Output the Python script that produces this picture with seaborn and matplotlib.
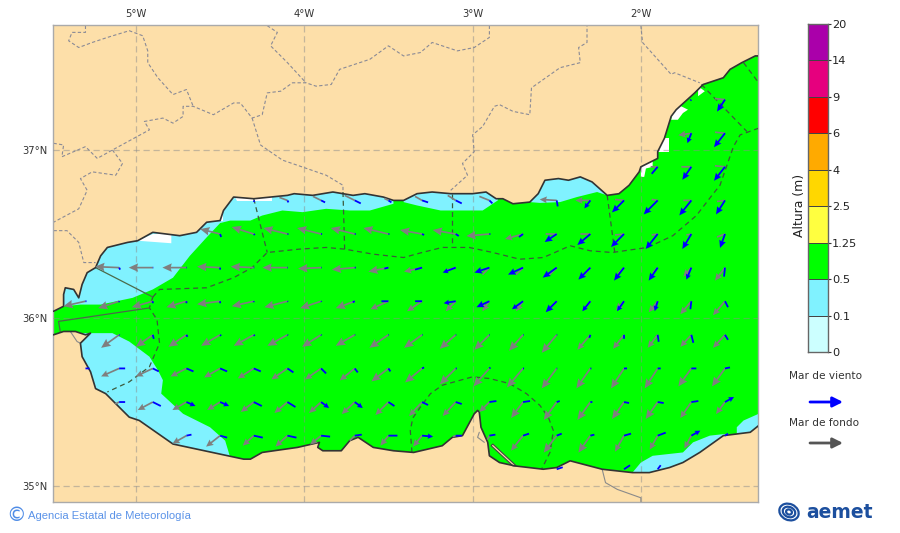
# Oleaje en el mar de Alboran - altura, mar de viento y mar de fondo
import numpy as np
import matplotlib
matplotlib.use('Agg')
import matplotlib.pyplot as plt
import seaborn as sns
from matplotlib.colors import ListedColormap
from matplotlib.patches import Ellipse

n = np.nan

# rejilla de las flechas
lon_grid = [-5.3, -5.1, -4.9, -4.7, -4.5, -4.3, -4.1, -3.9, -3.7, -3.5,
            -3.3, -3.1, -2.9, -2.7, -2.5, -2.3, -2.1, -1.9, -1.7, -1.5]
lat_grid = [37.3, 37.1, 36.9, 36.7, 36.5, 36.3, 36.1, 35.9, 35.7, 35.5, 35.3, 35.1]

# mar de fondo (gris)
swell_u = [
    [n, n, n, n, n, n, n, n, n, n, n, n, n, n, n, n, n, n, n, -10],
    [n, n, n, n, n, n, n, n, n, n, n, n, n, n, n, n, n, n, -13, -10],
    [n, n, n, n, n, n, n, n, n, n, n, n, n, n, n, n, n, -7, -10, -10],
    [n, n, n, n, n, n, -8, -8, -10, -4, -7, -8, -10, n, -17, -15, -9, -6, -8, -8],
    [n, n, n, n, -20, -22, -24, -24, -24, -25, -22, -23, -23, -18, -11, -10, -9, -6, -5, -8],
    [n, -24, -24, -24, -23, -23, -25, -23, -23, -20, -18, -10, -7, -7, -8, -6, -6, -5, -8, -10],
    [-22, -21, -21, -20, -23, -22, -23, -21, -19, -18, -15, -10, -7, -7, -7, -7, -8, -9, -11, -12],
    [n, -18, -17, -18, -19, -20, -20, -19, -19, -19, -18, -16, -15, -14, -15, -13, -11, -10, -11, -12],
    [n, -18, -17, -16, -16, -16, -16, -16, -15, -17, -17, -16, -16, -16, -15, -14, -13, -13, -13, -13],
    [n, -4, -15, -14, -13, -13, -13, -12, -13, -13, -13, -13, -10, -12, -13, -13, -12, -12, -11, -9],
    [n, n, n, -14, -14, -11, -12, -11, -5, -8, -9, -3, -2, -12, -13, -12, -9, -8, -7, n],
    [n, n, n, n, n, n, n, n, n, n, n, n, n, n, n, n, n, n, n, n],
]
swell_v = [
    [n, n, n, n, n, n, n, n, n, n, n, n, n, n, n, n, n, n, n, 1],
    [n, n, n, n, n, n, n, n, n, n, n, n, n, n, n, n, n, n, -2, 1],
    [n, n, n, n, n, n, n, n, n, n, n, n, n, n, n, n, n, 0, 0, 1],
    [n, n, n, n, n, n, 3, 4, 5, 2, 4, 5, 4, n, 1, 0, 1, 1, 0, -1],
    [n, n, n, n, 5, 7, 6, 6, 6, 6, 4, 4, -2, -5, 0, 0, -1, -1, -1, -3],
    [n, 1, 0, 0, 1, 1, 0, -1, -2, -4, -4, -3, -7, -7, -8, -7, -6, -5, -9, -13],
    [-5, -7, -6, -6, -3, -5, -6, -7, -7, -8, -10, -10, -10, -10, -7, -9, -9, -11, -13, -14],
    [n, -13, -12, -12, -11, -11, -11, -12, -11, -13, -13, -14, -15, -16, -18, -15, -14, -13, -12, -13],
    [n, -8, -8, -8, -9, -10, -11, -11, -12, -13, -14, -16, -18, -19, -20, -20, -20, -20, -18, -18],
    [n, -2, -8, -8, -8, -10, -11, -11, -12, -13, -14, -14, -10, -16, -18, -18, -17, -17, -16, -12],
    [n, n, n, -8, -11, -10, -11, -9, -5, -10, -11, -1, -4, -15, -17, -17, -16, -14, -13, n],
    [n, n, n, n, n, n, n, n, n, n, n, n, n, n, n, n, n, n, n, n],
]

# mar de viento (azul)
wind_u = [
    [n, n, n, n, n, n, n, n, n, n, n, n, n, n, n, n, n, n, -1, -8],
    [n, n, n, n, n, n, n, n, n, n, n, n, n, n, n, n, n, n, -4, -11],
    [n, n, n, n, n, n, n, n, n, n, n, n, n, n, n, n, n, -6, -9, -11],
    [n, n, n, n, n, 0.5, 1, 4, 6, 3, 6, 6, 3, n, 1, -6, -12, -14, -12, -9],
    [n, n, n, n, 1, 1, 1, 1, 1, 1, 2, 3, 1, -4, -12, -13, -13, -12, -9, -5],
    [n, 1, 0.5, 0.5, 0, 0.5, 0.5, 0.5, 1, -4, -7, -13, -15, -15, -14, -12, -10, -9, -5, -1],
    [1, 0, 0, 0, 0, 0, 0.5, 0.5, -2, -7, -7, -12, -13, -11, -11, -8, -7, -3, -1, 3],
    [n, 0.5, 1, 1, 1, 1, 0.5, 0.5, 0.5, 0.5, 0.5, 0.5, 0.5, 0.5, 0.5, -1, 0, 1, 2, 3],
    [4, 6, 6, 7, 7, 7, 6, 5, 3, 2, 2, 1, 1, 1, 0.5, 1, 3, 3, 5, 5],
    [n, 6, 8, 9, 9, 8, 8, 8, 8, 6, 6, 6, 7, 7, 3, 2, 5, 6, 7, 9],
    [n, n, n, 5, 7, 9, 9, 9, 7, 9, 11, 6, 6, 6, 5, 4, 7, 8, 9, 3],
    [n, n, n, n, n, n, n, n, n, n, n, n, n, n, 6, n, 6, 3, n, n],
]
wind_v = [
    [n, n, n, n, n, n, n, n, n, n, n, n, n, n, n, n, n, n, -1, -12],
    [n, n, n, n, n, n, n, n, n, n, n, n, n, n, n, n, n, n, -10, -14],
    [n, n, n, n, n, n, n, n, n, n, n, n, n, n, n, n, n, -7, -13, -14],
    [n, n, n, n, n, -1.5, -2, -2, -3, -2, -2, -3, -3, n, -6, -8, -12, -14, -15, -14],
    [n, n, n, n, -3, -1, 0, 0, 0, 0, -1, -2, 0, -3, -8, -11, -13, -15, -15, -14],
    [n, -2, 0, 0, -2, 0, 0, 0, 0, -1, -2, -5, -5, -7, -10, -12, -13, -13, -12, -9],
    [0, -1, -2, -2, -2, -1, -0.5, -0.5, -1, 0, 0, -2, -6, -8, -11, -10, -10, -10, -8, -6],
    [n, -0.5, -4, -2, -1, -1, -0.5, -0.5, 0, 0, 0, 0, 0, 0, 0, -3, -4, -7, -8, -5],
    [0, 0, -3, -3, -3, -3, -4, -5, -4, -3, 1, 0, 1, 0, 0, 0, 0, 0, 0, 1],
    [n, 0, -4, -4, -4, -4, -5, -6, -6, -4, -3, -2, 1, 1, 1, 0, -1, -1, 1, 5],
    [n, n, n, 1, -2, -2, -2, -1, 1, 0, -1, 0, 1, 2, 2, 1, 2, 3, 5, 2],
    [n, n, n, n, n, n, n, n, n, n, n, n, n, n, 2, n, 4, 4, n, n],
]

# costas
coast_n_lon = [-5.49, -5.43, -5.43, -5.42, -5.37, -5.34, -5.32, -5.29, -5.24, -5.21, -5.17, -5.05, -4.99,
               -4.90, -4.74, -4.64, -4.58, -4.50, -4.48, -4.42, -4.30, -4.10, -4.06, -3.95, -3.83, -3.71,
               -3.64, -3.53, -3.47, -3.41, -3.33, -3.24, -3.13, -3.00, -2.92, -2.86, -2.82, -2.76, -2.66,
               -2.61, -2.57, -2.49, -2.43, -2.36, -2.29, -2.20, -2.13, -2.07, -2.01, -2.00, -1.94, -1.90,
               -1.90, -1.86, -1.82, -1.79, -1.68, -1.63, -1.51, -1.47, -1.40, -1.32, -1.30]
coast_n_lat = [36.04, 36.07, 36.14, 36.18, 36.17, 36.12, 36.20, 36.27, 36.30, 36.37, 36.42, 36.45, 36.46,
               36.51, 36.49, 36.51, 36.57, 36.58, 36.64, 36.72, 36.71, 36.73, 36.74, 36.73, 36.75, 36.73,
               36.74, 36.72, 36.70, 36.70, 36.74, 36.75, 36.74, 36.74, 36.75, 36.71, 36.71, 36.68, 36.69,
               36.74, 36.82, 36.83, 36.82, 36.84, 36.81, 36.73, 36.74, 36.79, 36.87, 36.90, 36.93, 36.95,
               36.99, 37.07, 37.20, 37.24, 37.34, 37.39, 37.43, 37.48, 37.52, 37.56, 37.56]
coast_s_lon = [-5.49, -5.43, -5.36, -5.30, -5.27, -5.33, -5.32, -5.27, -5.24, -5.18, -5.04, -4.98, -4.88,
               -4.78, -4.36, -4.32, -4.25, -4.04, -3.91, -3.92, -3.89, -3.78, -3.73, -3.68, -3.59, -3.47,
               -3.35, -3.18, -3.12, -3.06, -2.99, -2.97, -2.96, -2.95, -2.91, -2.90, -2.84, -2.75, -2.58,
               -2.50, -2.42, -2.23, -2.05, -1.95, -1.83, -1.75, -1.65, -1.51, -1.43, -1.35, -1.30]
coast_s_lat = [35.90, 35.92, 35.92, 35.90, 35.91, 35.85, 35.77, 35.68, 35.58, 35.55, 35.41, 35.39, 35.32,
               35.25, 35.16, 35.16, 35.20, 35.23, 35.26, 35.23, 35.21, 35.21, 35.27, 35.29, 35.23, 35.21,
               35.20, 35.24, 35.29, 35.30, 35.43, 35.45, 35.44, 35.35, 35.26, 35.18, 35.14, 35.12, 35.10,
               35.11, 35.15, 35.10, 35.08, 35.08, 35.11, 35.14, 35.20, 35.30, 35.31, 35.32, 35.36]
spit_lon = [-2.88, -2.74, -2.76, -2.89]
spit_lat = [35.25, 35.12, 35.12, 35.24]

# zonas con altura 0.1-0.5 m
cyan_nw = ([-5.43, -5.33, -5.21, -5.02, -4.90, -4.78, -4.68, -4.58, -4.50, -4.44, -4.32, -4.25, -4.13, -4.01,
            -3.87, -3.73, -3.61, -3.47, -3.47, -5.43],
           [36.07, 36.08, 36.08, 36.12, 36.17, 36.24, 36.37, 36.48, 36.565, 36.58, 36.58, 36.61, 36.64, 36.63,
            36.65, 36.64, 36.64, 36.68, 36.80, 36.80])
cyan_n2 = ([-3.41, -3.33, -3.19, -3.07, -2.94, -2.85, -2.85, -3.41],
           [36.69, 36.67, 36.64, 36.64, 36.64, 36.70, 36.80, 36.80])
cyan_n3 = ([-2.66, -2.60, -2.48, -2.38, -2.26, -2.20, -2.20, -2.66],
           [36.69, 36.685, 36.69, 36.72, 36.75, 36.73, 36.90, 36.90])
cyan_sw = ([-5.27, -5.14, -5.04, -4.92, -4.87, -4.84, -4.85, -4.72, -4.56, -4.47, -4.44, -4.44, -5.40, -5.40],
           [35.91, 35.91, 35.86, 35.77, 35.69, 35.63, 35.55, 35.43, 35.35, 35.27, 35.17, 35.05, 35.05, 35.91])
cyan_se = ([-2.05, -2.00, -1.93, -1.75, -1.69, -1.59, -1.50, -1.43, -1.43, -1.39, -1.30, -1.25, -2.05],
           [35.08, 35.14, 35.18, 35.20, 35.26, 35.30, 35.31, 35.31, 35.35, 35.39, 35.43, 35.00, 35.00])

# celdas sin dato
nodata = [
    ([-4.99, -4.90, -4.79, -4.79], [36.46, 36.50, 36.50, 36.445]),
    ([-4.42, -4.19, -4.19, -4.40], [36.73, 36.73, 36.695, 36.695]),
    ([-4.52, -4.48, -4.48, -4.52], [36.62, 36.62, 36.58, 36.58]),
    ([-1.86, -1.83, -1.83, -1.90], [37.07, 37.07, 36.99, 36.99]),
    ([-1.82, -1.78, -1.75, -1.72, -1.80], [37.18, 37.18, 37.22, 37.24, 37.28]),
    ([-2.00, -1.98, -1.97, -1.93, -1.93, -2.00], [36.84, 36.84, 36.89, 36.90, 36.95, 36.95]),
    ([-1.66, -1.62, -1.66], [37.32, 37.35, 37.38]),
]

# limites de zonas costeras
zone_lines = [
    ([-4.90, -4.86, -4.58, -4.42, -4.31, -4.22, -4.03, -3.87, -3.76, -3.59, -3.41, -3.30, -3.18, -3.02, -2.88,
      -2.72, -2.58, -2.42, -2.30, -2.17, -1.96, -1.81, -1.67, -1.57, -1.53, -1.45, -1.41, -1.30],
     [36.125, 36.17, 36.18, 36.24, 36.30, 36.39, 36.41, 36.42, 36.41, 36.38, 36.36, 36.39, 36.42, 36.42, 36.39,
      36.35, 36.36, 36.43, 36.40, 36.39, 36.42, 36.49, 36.61, 36.74, 36.79, 37.02, 37.09, 37.13]),
    ([-4.30, -4.22], [36.71, 36.39]),
    ([-3.77, -3.76], [36.75, 36.41]),
    ([-3.12, -3.12], [36.74, 36.42]),
    ([-2.20, -2.155], [36.73, 36.39]),
    ([-1.64, -1.37], [37.39, 37.11]),
    ([-1.39, -1.30], [37.52, 37.40]),
    ([-4.90, -4.92, -4.875, -4.86, -4.92, -5.04, -5.17], [36.125, 36.06, 35.99, 35.85, 35.71, 35.62, 35.56]),
    ([-3.36, -3.37, -3.355, -3.31, -3.25, -3.18, -3.00, -2.90, -2.78, -2.68, -2.60, -2.55, -2.52, -2.54, -2.59],
     [35.20, 35.33, 35.405, 35.47, 35.55, 35.60, 35.65, 35.64, 35.61, 35.55, 35.48, 35.41, 35.33, 35.20, 35.10]),
]
strait_lines = [
    ([-5.24, -4.90], [36.30, 36.125]),
    ([-5.45, -5.46, -4.92], [35.92, 35.98, 36.06]),
]

# limites administrativos en tierra
borders = [
    ([-5.30, -5.30, -5.38, -5.40, -5.34, -5.26, -5.17, -5.04, -4.96, -4.93, -4.93, -4.87, -4.78, -4.70, -4.66],
     [37.74, 37.70, 37.70, 37.65, 37.61, 37.64, 37.67, 37.71, 37.68, 37.59, 37.52, 37.43, 37.33, 37.36, 37.26]),
    ([-5.49, -5.43, -5.44, -5.30, -5.23, -5.14, -4.92, -4.95, -4.84, -4.78, -4.72, -4.72, -4.66, -4.54, -4.42,
      -4.38, -4.31, -4.25, -4.22, -4.14, -4.07, -3.99, -3.93, -3.84, -3.79, -3.61, -3.50, -3.41, -3.31, -3.24,
      -3.09, -2.99, -2.90, -2.90],
     [37.04, 37.03, 36.96, 37.02, 36.95, 37.00, 37.12, 37.17, 37.19, 37.16, 37.20, 37.26, 37.26, 37.21, 37.28,
      37.28, 37.19, 37.21, 37.34, 37.35, 37.40, 37.40, 37.38, 37.39, 37.48, 37.54, 37.62, 37.56, 37.58, 37.64,
      37.59, 37.61, 37.67, 37.74]),
    ([-4.22, -4.16, -4.20, -4.10, -3.99], [37.74, 37.70, 37.62, 37.52, 37.40]),
    ([-4.31, -4.26, -4.13, -3.87, -3.77, -3.77], [37.19, 37.03, 36.94, 36.85, 36.79, 36.75]),
    ([-5.14, -5.08, -5.12, -5.26, -5.33, -5.29, -5.34, -5.49], [37.00, 36.92, 36.85, 36.87, 36.83, 36.76, 36.65, 36.57]),
    ([-5.49, -5.41, -5.34, -5.31, -5.24], [36.52, 36.52, 36.45, 36.33, 36.33]),
    ([-3.13, -3.03, -3.06, -2.99, -3.00, -2.94, -2.87, -2.84, -2.76, -2.66, -2.65, -2.48, -2.36, -2.37, -2.32, -2.32],
     [36.76, 36.85, 36.92, 36.99, 37.09, 37.14, 37.26, 37.27, 37.23, 37.21, 37.37, 37.49, 37.52, 37.61, 37.64, 37.74]),
    ([-2.00, -1.99, -1.82, -1.80, -1.65], [37.74, 37.64, 37.45, 37.46, 37.40]),
]
borders_s = [
    ([-2.23, -2.21, -2.14, -2.00, -2.00], [35.10, 35.02, 34.98, 34.93, 34.90]),
    ([-2.96, -2.97, -2.93], [35.32, 35.29, 35.26]),
    ([-5.39, -5.35, -5.33], [35.92, 35.86, 35.85]),
]

# escala de colores
scale_labels = ['20', '14', '9', '6', '4', '2.5', '1.25', '0.5', '0.1', '0']
scale_colors = ['#ccffff', '#80f2ff', '#00ff00', '#ffff40', '#ffd700', '#ffaa00', '#ff0000', '#e6007e', '#aa00aa']
scale_cells = [[8], [7], [6], [5], [4], [3], [2], [1], [0]]

lon_ticks = [-5, -4, -3, -2]
lon_labels = ['5°W', '4°W', '3°W', '2°W']
lat_ticks = [35, 36, 37]
lat_labels = ['35°N', '36°N', '37°N']

LAND = '#fddfa9'
SEA = '#00ff00'
CYAN = '#80f2ff'
W, H = 900, 533

sns.set_style('white')
plt.rcParams['font.family'] = ['DejaVu Sans']


def px_box(x0, y0, x1, y1):
    return [x0 / W, 1 - y1 / H, (x1 - x0) / W, (y1 - y0) / H]


def draw_lines(ax, lines, **kw):
    for lon, lat in lines:
        sns.lineplot(x=lon, y=lat, sort=False, estimator=None, ax=ax, legend=False, **kw)


def draw_arrows(ax, u, v, lo, hi, color, width, hw, hl, zorder):
    # las flechas cortas del original no llevan punta, se dibujan por tramos de longitud
    lon2d, lat2d = np.meshgrid(lon_grid, lat_grid)
    u, v = np.array(u, float), np.array(v, float)
    ln = np.hypot(u, v)
    m = (ln >= lo) & (ln < hi)
    ax.quiver(lon2d[m], lat2d[m], u[m], v[m], color=color, angles='xy', scale_units='xy', scale=168,
              units='dots', width=width, headwidth=hw, headlength=hl, headaxislength=hl * 0.9,
              minlength=0, minshaft=0, zorder=zorder)


fig = plt.figure(figsize=(W / 100, H / 100), dpi=100)
ax = fig.add_axes(px_box(53, 25, 758, 502))
ax.set_facecolor(SEA)

# zonas de altura
for lon, lat in [cyan_nw, cyan_n2, cyan_n3, cyan_sw, cyan_se]:
    ax.fill(lon, lat, color=CYAN, lw=0, zorder=1)
for lon, lat in nodata:
    ax.fill(lon, lat, color='white', lw=0, zorder=1.1)

# tierra
land_n_lon = coast_n_lon + [-1.2, -1.2, -5.6, -5.6]
land_n_lat = coast_n_lat + [37.56, 37.9, 37.9, 36.04]
land_s_lon = coast_s_lon + [-1.2, -1.2, -5.6, -5.6]
land_s_lat = coast_s_lat + [35.36, 34.8, 34.8, 35.90]
ax.fill(land_n_lon, land_n_lat, color=LAND, lw=0, zorder=1.5)
ax.fill(land_s_lon, land_s_lat, color=LAND, lw=0, zorder=1.5)
ax.fill(spit_lon, spit_lat, color=LAND, ec='#444444', lw=0.8, zorder=3.9)

draw_lines(ax, borders, color='#8a8a96', lw=0.8, linestyle=(0, (3, 2)), zorder=2)
draw_lines(ax, borders_s, color='#8a8a8a', lw=0.8, zorder=2)
draw_lines(ax, zone_lines, color='#3c5a3c', lw=0.9, linestyle=(0, (4, 3)), zorder=3)
draw_lines(ax, strait_lines, color='#4a6a4a', lw=0.9, zorder=3)
draw_lines(ax, [(coast_n_lon, coast_n_lat), (coast_s_lon, coast_s_lat)], color='#333333', lw=1.2, zorder=4)

# flechas de fondo debajo, las de viento encima
draw_arrows(ax, swell_u, swell_v, 0, 12, '#7f7f7f', 1.7, 1, 0.01, 5)
draw_arrows(ax, swell_u, swell_v, 12, 20, '#7f7f7f', 1.7, 4, 4.2, 5)
draw_arrows(ax, swell_u, swell_v, 20, 99, '#7f7f7f', 1.7, 5, 5.5, 5)
draw_arrows(ax, wind_u, wind_v, 0, 9.5, '#0000ff', 1.8, 1, 0.01, 6)
draw_arrows(ax, wind_u, wind_v, 9.5, 14, '#0000ff', 1.8, 3, 3, 6)
draw_arrows(ax, wind_u, wind_v, 14, 99, '#0000ff', 1.8, 3.8, 4.2, 6)

# ejes
ax.set_xlim(-5.493, -1.304)
ax.set_ylim(34.905, 37.744)
ax.set_xticks(lon_ticks)
ax.set_xticklabels(lon_labels)
ax.set_yticks(lat_ticks)
ax.set_yticklabels(lat_labels)
ax.tick_params(axis='both', length=0, labelsize=7.2, labelcolor='#333333', pad=4)
ax.xaxis.tick_top()
ax.set_axisbelow(False)
ax.grid(True, color='#8c8c8c', alpha=0.5, lw=0.9, linestyle=(0, (5, 3)))
for s in ax.spines.values():
    s.set_color('#aaaaaa')
    s.set_linewidth(1.0)
    s.set_visible(True)

# escala
cax = fig.add_axes(px_box(808, 24, 828, 352))
sns.heatmap(scale_cells, ax=cax, cmap=ListedColormap(scale_colors), vmin=-0.5, vmax=8.5, cbar=False,
            linewidths=0.5, linecolor='#444444', xticklabels=False)
cax.yaxis.tick_right()
cax.set_yticks(np.arange(len(scale_labels)))
cax.set_yticklabels(scale_labels, rotation=0)
cax.tick_params(axis='y', length=2, width=0.8, color='#333333', labelsize=8.2, labelcolor='#222222', pad=1)
for s in cax.spines.values():
    s.set_visible(True)
    s.set_color('#666666')
    s.set_linewidth(1)
fig.text(799 / W, 1 - 205 / H, 'Altura (m)', rotation=90, ha='center', va='center', fontsize=8.9, color='#222222')

# leyenda
fig.text(789 / W, 1 - 376 / H, 'Mar de viento', ha='left', va='center', fontsize=7.6, color='#333333')
fig.text(789 / W, 1 - 423 / H, 'Mar de fondo', ha='left', va='center', fontsize=7.6, color='#333333')
for yp, col in [(402, '#0000ff'), (443, '#555555')]:
    fig.add_artist(plt.Annotation('', xy=(843 / W, 1 - yp / H), xytext=(810 / W, 1 - yp / H),
                                  xycoords='figure fraction', textcoords='figure fraction',
                                  arrowprops=dict(arrowstyle='-|>', color=col, lw=2, mutation_scale=15,
                                                  shrinkA=0, shrinkB=0)))

# pie
fig.text(6 / W, 1 - 515.5 / H, '©', ha='left', va='center', fontsize=14, color='#4f8ce6')
fig.text(28 / W, 1 - 516 / H, 'Agencia Estatal de Meteorología', ha='left', va='center', fontsize=8.1,
         family='Liberation Sans', color='#5b93e8')
fig.text(806 / W, 1 - 512 / H, 'aemet', ha='left', va='center', fontsize=13.5, fontweight='bold', color='#1c4f9e')
lax = fig.add_axes(px_box(777, 502, 803, 524))
lax.set_xlim(0, 26)
lax.set_ylim(22, 0)
lax.axis('off')
for w_, h_ in [(20, 16), (13, 10), (6, 5)]:
    lax.add_patch(Ellipse((12, 10), w_, h_, angle=25, fill=False, ec='#1c4f9e', lw=1.6))

plt.savefig('out.png', dpi=100)
plt.close()
